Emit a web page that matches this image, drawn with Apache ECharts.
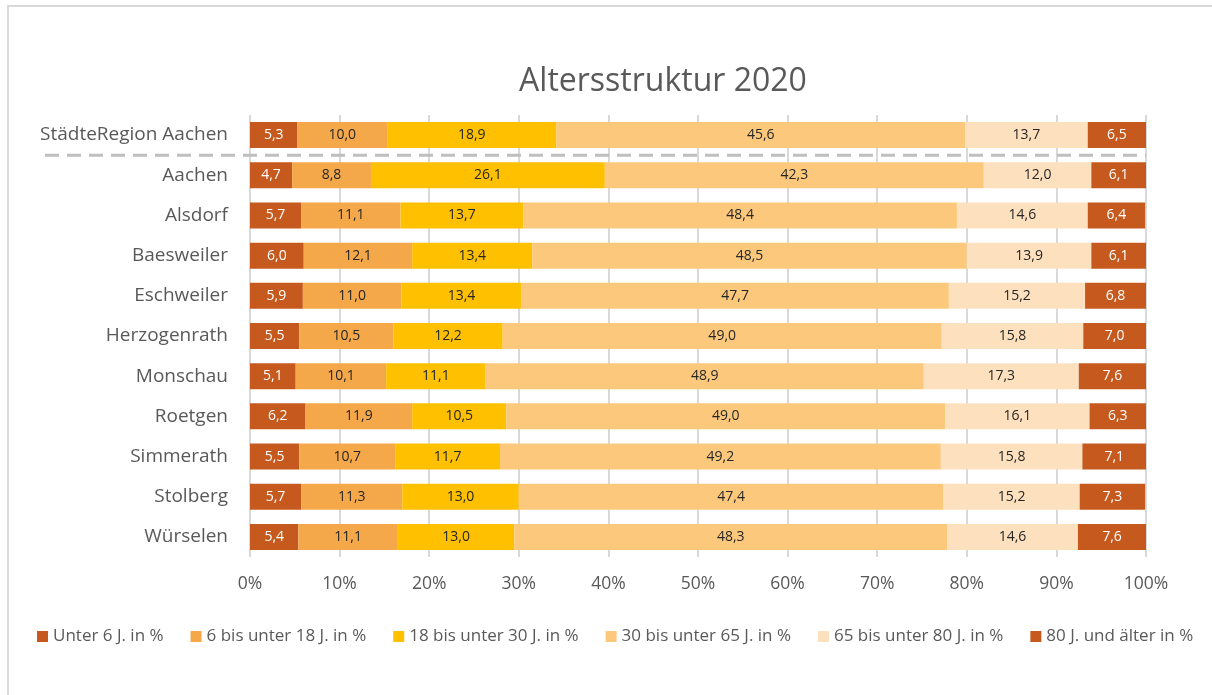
<!DOCTYPE html>
<html>
<head>
<meta charset="utf-8">
<title>Altersstruktur 2020</title>
<script src="https://cdn.jsdelivr.net/npm/echarts@6/dist/echarts.min.js"></script>
<style>
html, body { margin: 0; padding: 0; background: #fff; }
#chart { width: 1212px; height: 695px; }
</style>
</head>
<body>
<div id="chart"></div>
<script>
// Gebiete (von oben nach unten)
var regionen = ['StädteRegion Aachen', 'Aachen', 'Alsdorf', 'Baesweiler', 'Eschweiler',
    'Herzogenrath', 'Monschau', 'Roetgen', 'Simmerath', 'Stolberg', 'Würselen'];

// Altersgruppen je Gebiet, in %
var unter6 = [5.3, 4.7, 5.7, 6.0, 5.9, 5.5, 5.1, 6.2, 5.5, 5.7, 5.4];
var von6bis18 = [10.0, 8.8, 11.1, 12.1, 11.0, 10.5, 10.1, 11.9, 10.7, 11.3, 11.1];
var von18bis30 = [18.9, 26.1, 13.7, 13.4, 13.4, 12.2, 11.1, 10.5, 11.7, 13.0, 13.0];
var von30bis65 = [45.6, 42.3, 48.4, 48.5, 47.7, 49.0, 48.9, 49.0, 49.2, 47.4, 48.3];
var von65bis80 = [13.7, 12.0, 14.6, 13.9, 15.2, 15.8, 17.3, 16.1, 15.8, 15.2, 14.6];
var ab80 = [6.5, 6.1, 6.4, 6.1, 6.8, 7.0, 7.6, 6.3, 7.1, 7.3, 7.6];

var gruppen = ['Unter 6 J. in %', '6 bis unter 18 J. in %', '18 bis unter 30 J. in %',
    '30 bis unter 65 J. in %', '65 bis unter 80 J. in %', '80 J. und älter in %'];
var werte = [unter6, von6bis18, von18bis30, von30bis65, von65bis80, ab80];
var farben = ['#C65A1E', '#F5A84A', '#FFC000', '#FCC97C', '#FDE0BD', '#C65A1E'];
var labelFarben = ['#ffffff', '#262626', '#262626', '#262626', '#262626', '#ffffff'];

var schrift = '"Open Sans", Lato, sans-serif';

var chart = echarts.init(document.getElementById('chart'));

var series = gruppen.map(function (name, i) {
    return {
        name: name,
        type: 'bar',
        stack: 'gesamt',
        barWidth: 26,
        itemStyle: { color: farben[i] },
        label: {
            show: true,
            position: 'inside',
            color: labelFarben[i],
            fontFamily: schrift,
            fontSize: 14,
            formatter: function (p) { return p.value.toFixed(1).replace('.', ','); }
        },
        data: werte[i]
    };
});

var option = {
    backgroundColor: '#ffffff',
    textStyle: { fontFamily: schrift },
    title: {
        text: 'Altersstruktur 2020',
        left: 658,
        textAlign: 'center',
        top: 61,
        textStyle: { fontFamily: schrift, fontSize: 32, fontWeight: 'normal', color: '#595959' }
    },
    legend: {
        data: gruppen,
        left: 32,
        top: 623,
        itemWidth: 11,
        itemHeight: 11,
        itemGap: 27,
        icon: 'rect',
        textStyle: { fontFamily: schrift, fontSize: 17, color: '#595959' }
    },
    grid: { left: 250, right: 66, top: 115, bottom: 138, containLabel: false },
    xAxis: {
        type: 'value',
        min: 0,
        max: 100,
        interval: 10,
        axisLine: { show: false },
        axisTick: { show: false },
        splitLine: { show: true, lineStyle: { color: '#d9d9d9', width: 2 } },
        axisLabel: {
            formatter: '{value}%',
            fontFamily: schrift,
            fontSize: 17.5,
            color: '#595959',
            margin: 18
        }
    },
    yAxis: {
        type: 'category',
        data: regionen,
        inverse: true,
        axisLine: { show: false },
        axisTick: { show: false },
        axisLabel: { fontFamily: schrift, fontSize: 19, color: '#595959', margin: 22 }
    },
    series: series
};

chart.setOption(option);

// Rahmen und gestrichelte Trennlinie unter der StädteRegion
var y0 = chart.convertToPixel({ yAxisIndex: 0 }, regionen[0]);
var y1 = chart.convertToPixel({ yAxisIndex: 0 }, regionen[1]);
var xEnd = chart.convertToPixel({ xAxisIndex: 0 }, 100);
chart.setOption({
    graphic: [
        {
            type: 'rect',
            shape: { x: 8, y: 6, width: 1300, height: 800 },
            style: { fill: 'none', stroke: '#d9d9d9', lineWidth: 2 },
            silent: true
        },
        {
            type: 'line',
            shape: { x1: 45, y1: (y0 + y1) / 2, x2: xEnd, y2: (y0 + y1) / 2 },
            style: { stroke: '#bfbfbf', lineWidth: 3, lineDash: [14, 8] },
            z: 100,
            silent: true
        }
    ]
});
</script>
</body>
</html>
